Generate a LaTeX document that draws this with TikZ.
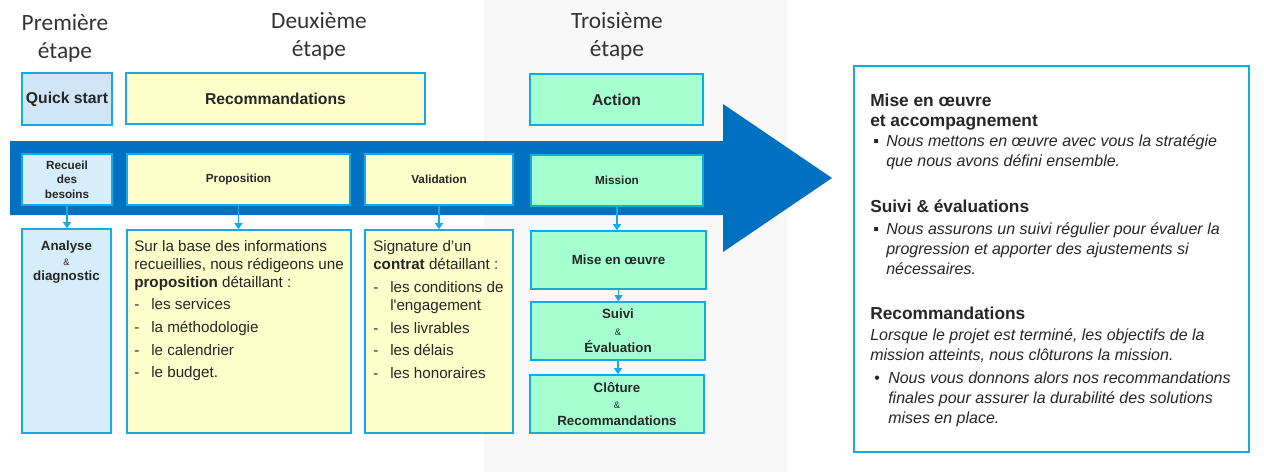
\documentclass[tikz,border=0pt]{standalone}
\usepackage{fontspec}
\setmainfont{Liberation Sans}
\newfontfamily\titlefont{Carlito}
\usetikzlibrary{arrows.meta}
\definecolor{cyanb}{RGB}{20,170,230}
\definecolor{arrowblue}{RGB}{0,112,192}
\definecolor{panelgray}{RGB}{248,248,248}
\definecolor{qsblue}{RGB}{208,229,245}
\definecolor{lightcyan}{RGB}{213,238,250}
\definecolor{paleyellow}{RGB}{255,255,204}
\definecolor{mint}{RGB}{166,255,208}
\definecolor{txt}{RGB}{38,38,38}
\definecolor{titlecol}{RGB}{51,51,51}
\begin{document}
\begin{tikzpicture}[x=0.75pt,y=-0.75pt,
  rect/.style n args={4}{minimum width={(#3-#1)*0.75pt}, minimum height={(#4-#2)*0.75pt}, at={({(#1+#3)/2},{(#2+#4)/2})}},
  cbox/.style={draw=cyanb, line width=1.2pt, inner sep=0pt, align=center, text=txt},
  steptitle/.style={font=\titlefont\fontsize{17.5}{21}\selectfont, text=titlecol, align=center},
  bigl/.style={font=\bfseries\fontsize{11.8}{14}\selectfont},
  smalll/.style={font=\bfseries\fontsize{8.8}{11}\selectfont},
  mintl/.style={font=\bfseries\fontsize{10}{12.6}\selectfont},
  body/.style={font=\fontsize{11.4}{13.5}\selectfont, text=txt, align=left, inner sep=0pt, anchor=north west},
  rhead/.style={font=\bfseries\fontsize{13}{15}\selectfont, text=txt, align=left, inner sep=0pt, anchor=north west},
  rbody/.style={font=\itshape\fontsize{12}{15}\selectfont, text=txt, align=left, inner sep=0pt, anchor=north west},
  conn/.style={draw=cyanb, line width=0.8pt, -{Triangle[width=6pt,length=4.5pt]}}
]
\useasboundingbox (0,0) rectangle (1264,472);
\fill[panelgray] (484,0) rectangle (787,472);

\node[steptitle] (t1) at (65,38) {Première\\étape};
\node[steptitle] (t2) at (319,36) {Deuxième\\étape};
\node[steptitle] (t3) at (617,36) {Troisième\\étape};

\node[cbox, fill=qsblue, bigl, rect={22}{73}{112}{125}] (qs) {Quick start};
\node[cbox, fill=paleyellow, bigl, rect={126}{73}{425}{124}] (reco) {Recommandations};
\node[cbox, fill=mint, bigl, rect={530}{74}{703}{125}] (act) {Action};

\fill[arrowblue] (10,141) -- (723,141) -- (723,104) -- (832,178) -- (723,252) -- (723,215) -- (10,215) -- cycle;

\node[cbox, fill=lightcyan, smalll, rect={22}{154}{112}{205}] (recb) {Recueil\\des\\besoins};
\node[cbox, fill=paleyellow, smalll, rect={127}{154}{350}{205}] (prop) {Proposition};
\node[cbox, fill=paleyellow, smalll, rect={365}{154}{513}{205}] (val) {Validation};
\node[cbox, fill=mint, smalll, rect={531}{155}{703}{206}] (mis) {Mission};

\node[cbox, fill=lightcyan, rect={22}{229}{111}{433}] (ana) {};
\node[cbox, fill=paleyellow, rect={127}{230}{351}{433}] (propd) {};
\node[cbox, fill=paleyellow, rect={365}{230}{513}{433}] (vald) {};
\node[cbox, fill=mint, mintl, rect={531}{231}{706}{289}] (mise) {Mise en œuvre};
\node[cbox, fill=mint, mintl, rect={531}{302}{705}{360}] (suivi) {Suivi\\{\mdseries\fontsize{7}{12.6}\selectfont\&}\\Évaluation};
\node[cbox, fill=mint, mintl, rect={530}{375}{704}{433}] (clot) {Clôture\\{\mdseries\fontsize{7}{12.6}\selectfont\&}\\Recommandations};

\node[font=\bfseries\fontsize{10}{11.25}\selectfont, text=txt, align=center, anchor=north, inner sep=0pt] (anat) at (66.5,241) {Analyse\\{\mdseries\fontsize{7}{11.25}\selectfont\&}\\diagnostic};

\node[body] (propt) at (134,239) {\strut Sur la base des informations\\recueillies, nous rédigeons une\\\textbf{proposition} détaillant :\\[3pt]\makebox[12.75pt][l]{-}les services\\[3.5pt]\makebox[12.75pt][l]{-}la méthodologie\\[3.5pt]\makebox[12.75pt][l]{-}le calendrier\\[3.5pt]\makebox[12.75pt][l]{-}le budget.};

\node[body] (valt) at (373,239) {\strut Signature d’un\\\textbf{contrat} détaillant :\\[3.5pt]\makebox[12.75pt][l]{-}les conditions de\\\hspace*{12.75pt}l\textquotesingle engagement\\[3.5pt]\makebox[12.75pt][l]{-}les livrables\\[3.5pt]\makebox[12.75pt][l]{-}les délais\\[3.5pt]\makebox[12.75pt][l]{-}les honoraires};

\draw[conn] (recb.south) -- (recb.south |- ana.north);
\draw[conn] (prop.south) -- (prop.south |- propd.north);
\draw[conn] (val.south) -- (val.south |- vald.north);
\draw[conn] (mis.south) -- (mis.south |- mise.north);
\draw[conn] (mise.south) -- (mise.south |- suivi.north);
\draw[conn] (suivi.south) -- (suivi.south |- clot.north);

\node[draw=cyanb, line width=1.2pt, fill=white, inner sep=0pt, rect={854}{66}{1249}{452}] (panel) {};
\node[rhead] (h1) at (870,92.5) {\strut Mise en œuvre\\et accompagnement};
\node[rbody] (b1) at (873,132) {\strut\makebox[9.75pt][l]{\upshape ▪}Nous mettons en œuvre avec vous la stratégie\\\hspace*{9.75pt}que nous avons défini ensemble.};
\node[rhead] (h2) at (870,198) {\strut Suivi \& évaluations};
\node[rbody] (b2) at (873,220) {\strut\makebox[9.75pt][l]{\upshape ▪}Nous assurons un suivi régulier pour évaluer la\\\hspace*{9.75pt}progression et apporter des ajustements si\\\hspace*{9.75pt}nécessaires.};
\node[rhead] (h3) at (870,305) {\strut Recommandations};
\node[rbody, font=\itshape\fontsize{12}{14.5}\selectfont] (p3) at (870,327) {\strut Lorsque le projet est terminé, les objectifs de la\\mission atteints, nous clôturons la mission.};
\node[rbody] (b3) at (874,369) {\strut\makebox[10.5pt][l]{\upshape •}Nous vous donnons alors nos recommandations\\\hspace*{10.5pt}finales pour assurer la durabilité des solutions\\\hspace*{10.5pt}mises en place.};
\end{tikzpicture}
\end{document}
